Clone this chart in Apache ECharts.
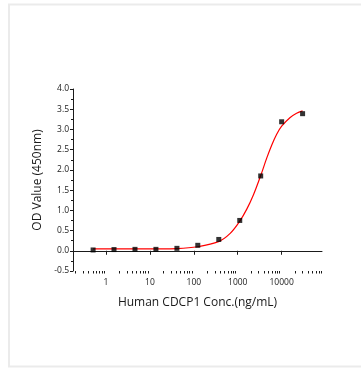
<!DOCTYPE html>
<html>
<head>
<meta charset="utf-8">
<script src="https://cdn.jsdelivr.net/npm/echarts@6/dist/echarts.min.js"></script>
<style>html,body{margin:0;padding:0;background:#fff;}#c{width:361px;height:368px;}</style>
</head>
<body>
<div id="c"></div>
<script>
// Measured points (concentration ng/mL, OD450)
const conc = [0.508, 1.52, 4.57, 13.7, 41.2, 123, 370, 1111, 3333, 10000, 30000];
const od = [0.02, 0.03, 0.035, 0.035, 0.06, 0.135, 0.28, 0.75, 1.85, 3.19, 3.39];
// Fit curve
const fitConc = [0.508, 1.52, 4.57, 13.4, 41, 122, 365, 673, 1094, 1607, 2270, 3333, 4570, 5930, 7710, 10000, 15400, 21900, 30000];
const fitOd = [0.045, 0.045, 0.045, 0.047, 0.055, 0.10, 0.225, 0.43, 0.72, 1.03, 1.38, 1.86, 2.29, 2.61, 2.88, 3.08, 3.29, 3.40, 3.46];
const xMajor = [1, 10, 100, 1000, 10000];
const xMinor = [0.2,0.3,0.4,0.5,0.6,0.7,0.8,0.9,2,3,4,5,6,7,8,9,20,30,40,50,60,70,80,90,200,300,400,500,600,700,800,900,2000,3000,4000,5000,6000,7000,8000,9000,20000,30000,40000,50000,60000,70000,80000];
const yTicks = [-0.5, 0, 0.5, 1.0, 1.5, 2.0, 2.5, 3.0, 3.5, 4.0];

const chart = echarts.init(document.getElementById('c'), null, {renderer: 'canvas'});
const FONT = 'Open Sans';
const xMin = 0.177, xMax = 83000;
chart.setOption({
  animation: false,
  backgroundColor: '#fff',
  graphic: [{
    type: 'rect', shape: {x: 9, y: 4.5, width: 360, height: 362},
    style: {fill: 'none', stroke: '#ebebeb', lineWidth: 2}, silent: true, z: -10
  }],
  grid: {left: 73, top: 89, width: 249, height: 182, containLabel: false},
  xAxis: [{
    type: 'log', logBase: 10, min: xMin, max: xMax,
    name: 'Human CDCP1 Conc.(ng/mL)', nameLocation: 'middle', nameGap: 26,
    nameTextStyle: {fontFamily: FONT, fontSize: 12, color: '#1a1a1a'},
    axisLine: {show: true, lineStyle: {color: '#1a1a1a', width: 1}},
    axisTick: {show: true, inside: false, length: 4, customValues: xMajor, lineStyle: {color: '#1a1a1a'}},
    axisLabel: {show: true, customValues: xMajor, fontFamily: FONT, fontSize: 8.5, color: '#1a1a1a', margin: 7,
      formatter: v => String(Math.round(v))},
    splitLine: {show: false}
  }, {
    type: 'log', logBase: 10, min: xMin, max: xMax, position: 'bottom', offset: 0,
    axisLine: {show: false},
    axisTick: {show: true, inside: false, length: 2.5, customValues: xMinor, lineStyle: {color: '#1a1a1a'}},
    axisLabel: {show: false},
    splitLine: {show: false}
  }],
  yAxis: {
    type: 'value', min: -0.5, max: 4.0, interval: 0.5,
    name: 'OD Value (450nm)', nameLocation: 'middle', nameGap: 24,
    nameTextStyle: {fontFamily: FONT, fontSize: 12, color: '#1a1a1a'},
    axisLine: {show: true, lineStyle: {color: '#1a1a1a', width: 1}},
    axisTick: {show: true, inside: false, length: 3, lineStyle: {color: '#1a1a1a'}},
    minorTick: {show: true, splitNumber: 2, length: 2, lineStyle: {color: '#1a1a1a'}},
    axisLabel: {fontFamily: FONT, fontSize: 8.5, color: '#1a1a1a', margin: 4, formatter: v => v.toFixed(1)},
    splitLine: {show: false}
  },
  series: [{
    type: 'line', xAxisIndex: 0, data: fitConc.map((c, i) => [c, fitOd[i]]),
    smooth: 0.35, symbol: 'none',
    lineStyle: {color: '#ff0000', width: 1.2}, z: 2
  }, {
    type: 'scatter', xAxisIndex: 0, data: conc.map((c, i) => [c, od[i]]),
    symbol: 'rect', symbolSize: 5, itemStyle: {color: '#000'}, z: 3
  }]
});
</script>
</body>
</html>
